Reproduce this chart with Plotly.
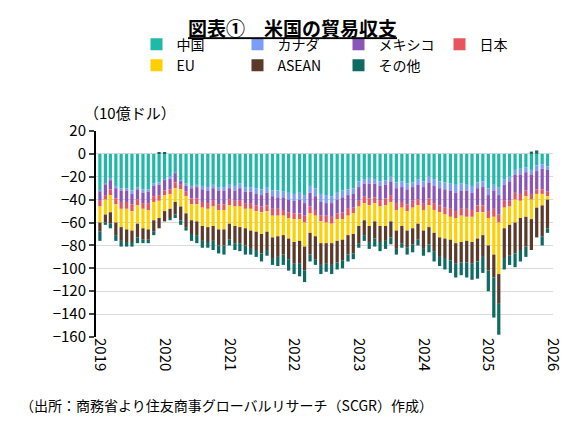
import plotly.graph_objects as go
import pandas as pd

months = pd.date_range("2019-01-01", "2025-12-01", freq="MS")

china = [-32, -26, -21, -28, -30, -30, -32, -29, -31, -31, -26, -25,
         -22, -20, -16, -23, -26, -28, -27, -28, -29, -27, -29, -29,
         -27, -28, -26, -29, -29, -30, -31, -29, -32, -32, -33, -34,
         -35, -34, -36, -28, -30, -35, -36, -37, -34, -32, -31, -30,
         -24, -22, -21, -22, -24, -23, -20, -25, -24, -26, -25, -22,
         -24, -20, -22, -24, -25, -26, -27, -26, -27, -28, -25, -24,
         -30, -27, -29, -22, -20, -14, -13, -12, -14, -10, -9, -11]
canada = [-1, -1, -2, -2, -2, -2, -3, -2, -3, -2, -2, -2,
          -1, -2, -1, -1, -2, -2, -2, -3, -3, -3, -3, -3,
          -3, -4, -4, -4, -4, -5, -5, -5, -5, -6, -5, -6,
          -6, -6, -7, -6, -7, -7, -7, -6, -6, -6, -5, -5,
          -5, -4, -5, -4, -4, -4, -4, -5, -5, -5, -4, -5,
          -5, -5, -6, -6, -6, -6, -7, -6, -5, -6, -5, -5,
          -6, -5, -7, -5, -4, -4, -5, -4, -4, -5, -4, -3]
mexico = [-8, -9, -8, -9, -10, -10, -9, -9, -9, -10, -9, -9,
          -9, -9, -8, -3, -5, -9, -10, -11, -11, -11, -12, -12,
          -10, -9, -11, -10, -10, -10, -10, -11, -11, -10, -11, -11,
          -11, -12, -11, -12, -12, -12, -11, -12, -12, -13, -12, -12,
          -12, -11, -13, -12, -13, -12, -12, -13, -13, -13, -12, -13,
          -14, -14, -15, -15, -16, -16, -16, -16, -16, -15, -15, -16,
          -14, -16, -17, -14, -17, -16, -17, -16, -17, -16, -18, -19]
japan = [-5, -4, -5, -5, -6, -6, -6, -5, -5, -6, -5, -5,
         -4, -4, -5, -4, -4, -5, -5, -5, -5, -5, -5, -5,
         -5, -5, -5, -5, -5, -5, -5, -5, -6, -6, -5, -5,
         -5, -5, -6, -6, -5, -5, -6, -6, -5, -6, -6, -5,
         -5, -6, -6, -5, -5, -6, -6, -6, -5, -6, -6, -5,
         -6, -6, -6, -6, -6, -7, -6, -6, -7, -6, -6, -6,
         -6, -7, -7, -6, -5, -6, -6, -5, -5, -4, -4, -4]
eu = [-14, -13, -15, -16, -16, -18, -17, -16, -17, -17, -16, -15,
      -14, -13, -12, -15, -15, -14, -15, -16, -16, -17, -17, -17,
      -16, -17, -18, -17, -19, -18, -19, -18, -19, -18, -17, -18,
      -20, -19, -21, -17, -18, -19, -18, -17, -19, -18, -17, -18,
      -17, -15, -18, -16, -17, -18, -17, -18, -16, -17, -18, -16,
      -18, -19, -20, -22, -21, -20, -22, -23, -21, -22, -23, -20,
      -24, -33, -45, -18, -16, -20, -15, -18, -17, -12, -10, -3]
asean = [-8, -7, -10, -11, -12, -11, -10, -12, -10, -9, -10, -9,
         -9, -8, -11, -12, -12, -12, -12, -13, -13, -13, -14, -14,
         -14, -15, -14, -15, -16, -16, -17, -16, -18, -18, -17, -18,
         -19, -20, -21, -19, -20, -19, -18, -19, -19, -18, -17, -17,
         -15, -13, -14, -15, -14, -13, -14, -16, -15, -15, -14, -14,
         -16, -15, -16, -17, -17, -18, -18, -18, -19, -19, -20, -19,
         -22, -20, -26, -26, -27, -27, -28, -26, -27, -26, -27, -25]
other = [-8, -2, -4, -5, -5, -4, -4, -5, -3, -3, -3, 1,
         1, -2, -3, -4, -3, -6, -7, -6, -5, -8, -7, -8,
         -5, -6, -7, -8, -5, -6, -7, -5, -6, -8, -9, -10,
         -9, -11, -10, -6, -5, -8, -7, -8, -6, -7, -6, -5,
         -4, -5, -6, -7, -8, -7, -6, -5, -4, -6, -7, -5,
         -6, -7, -9, -8, -10, -11, -12, -11, -13, -14, -15, -14,
         -18, -35, -27, -10, -8, -12, -10, -9, 2, 3, -8, -4]

names = ["中国", "カナダ", "メキシコ", "日本", "EU", "ASEAN", "その他"]
series = [china, canada, mexico, japan, eu, asean, other]
colors = ["#20b8a8", "#7b9cf7", "#8a55b6", "#e8545e", "#ffd000", "#5c3a2a", "#0f6a62"]

fig = go.Figure()
for n, s, c in zip(names, series, colors):
    fig.add_trace(go.Bar(x=months, y=s, name=n, marker=dict(color=c, line=dict(width=0))))

fig.update_layout(
    barmode="relative", bargap=0.35,
    width=569, height=426, plot_bgcolor="white", paper_bgcolor="white",
    font=dict(family="Noto Sans CJK JP", size=15, color="black"),
    title=dict(text="<b><u>図表①　米国の貿易収支</u></b>", x=0.5, y=0.965, xanchor="center",
               yanchor="top", font=dict(size=19)),
    legend=dict(orientation="h", x=0.5, xanchor="center", y=1.24, yanchor="bottom",
                font=dict(size=14), itemwidth=30, traceorder="normal",
                entrywidth=0, itemsizing="constant"),
    margin=dict(l=88, r=16, t=123, b=97),
    xaxis=dict(range=["2018-12-10", "2026-01-01"], tickformat="%Y", dtick="M12",
               tick0="2019-01-01", tickangle=90, showgrid=False, ticks="", showline=False,
               tickfont=dict(size=15)),
    yaxis=dict(range=[-160, 20], dtick=20, gridcolor="#d9d9d9", zeroline=False,
               showline=True, linecolor="black", linewidth=2, ticks="outside",
               ticklen=5, tickwidth=2, tickfont=dict(size=15)),
    annotations=[
        dict(text="（10億ドル）", xref="paper", yref="paper", x=-0.03, y=1.03,
             xanchor="left", yanchor="bottom", showarrow=False, font=dict(size=15)),
        dict(text="（出所：商務省より住友商事グローバルリサーチ（SCGR）作成）", xref="paper",
             yref="paper", x=-0.17, y=-0.27, xanchor="left", yanchor="top",
             showarrow=False, font=dict(size=14)),
    ],
)
fig.write_html("out.html")
